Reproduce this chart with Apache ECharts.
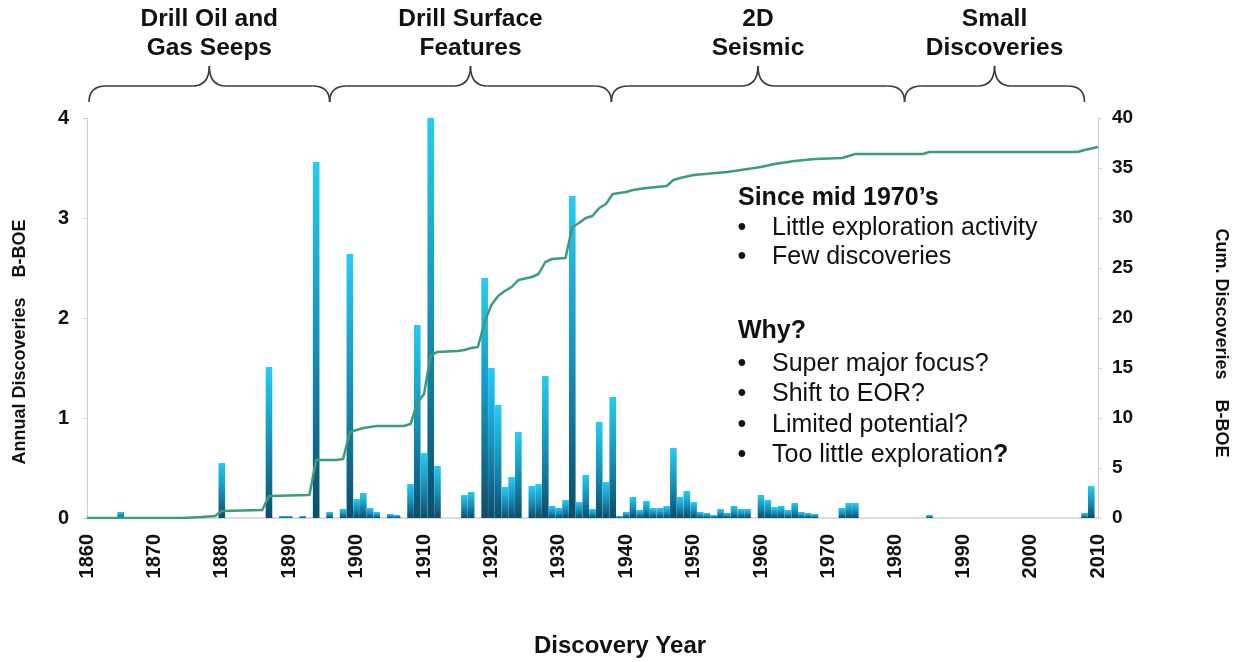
<!DOCTYPE html>
<html>
<head>
<meta charset="utf-8">
<script src="https://cdn.jsdelivr.net/npm/echarts@6/dist/echarts.min.js"></script>
<style>
  html, body { margin: 0; padding: 0; background: #ffffff; }
  #chart { width: 1242px; height: 662px; }
</style>
</head>
<body>
<div id="chart"></div>
<script>
// Annual discoveries (billion barrels of oil equivalent), years with a visible bar
const barYears = [1865, 1880, 1887, 1889, 1890, 1892, 1894, 1896, 1898, 1899,
  1900, 1901, 1902, 1903, 1905, 1906, 1908, 1909, 1910, 1911, 1912, 1916, 1917,
  1919, 1920, 1921, 1922, 1923, 1924, 1926, 1927, 1928, 1929, 1930, 1931, 1932,
  1933, 1934, 1935, 1936, 1937, 1938, 1939, 1940, 1941, 1942, 1943, 1944, 1945,
  1946, 1947, 1948, 1949, 1950, 1951, 1952, 1953, 1954, 1955, 1956, 1957, 1958,
  1960, 1961, 1962, 1963, 1964, 1965, 1966, 1967, 1968, 1972, 1973, 1974, 1985,
  2008, 2009];
const barValues = [0.06, 0.55, 1.51, 0.02, 0.02, 0.02, 3.56, 0.06, 0.09, 2.64,
  0.19, 0.25, 0.10, 0.06, 0.04, 0.03, 0.34, 1.93, 0.65, 4.00, 0.52, 0.23, 0.26,
  2.40, 1.50, 1.13, 0.31, 0.41, 0.86, 0.32, 0.34, 1.42, 0.12, 0.10, 0.18, 3.22,
  0.16, 0.43, 0.09, 0.96, 0.36, 1.21, 0.02, 0.06, 0.21, 0.08, 0.17, 0.10, 0.10,
  0.12, 0.70, 0.21, 0.27, 0.16, 0.06, 0.05, 0.03, 0.09, 0.05, 0.12, 0.09, 0.09,
  0.23, 0.18, 0.11, 0.12, 0.08, 0.15, 0.06, 0.05, 0.04, 0.10, 0.15, 0.15, 0.03,
  0.05, 0.32];

// Cumulative discoveries (B-BOE), vertices of the running-total curve
const cumYears = [1860, 1874, 1877, 1879, 1880, 1886, 1887, 1893, 1894, 1897,
  1898, 1899, 1900, 1901, 1903, 1907, 1908, 1909, 1910, 1911, 1912, 1915, 1916,
  1917, 1918, 1919, 1920, 1921, 1922, 1923, 1924, 1926, 1927, 1928, 1929, 1931,
  1932, 1933, 1934, 1935, 1936, 1937, 1938, 1940, 1941, 1943, 1946, 1947, 1948,
  1950, 1955, 1958, 1960, 1962, 1965, 1968, 1972, 1974, 1984, 1985, 2007, 2008,
  2010];
const cumValues = [0, 0, 0.1, 0.2, 0.7, 0.8, 2.2, 2.3, 5.8, 5.8,
  5.9, 8.6, 8.8, 9.0, 9.2, 9.2, 9.4, 11.5, 12.4, 16.3, 16.6, 16.7, 16.8,
  17.0, 17.1, 19.6, 21.3, 22.2, 22.7, 23.1, 23.8, 24.1, 24.4, 25.6, 25.9, 26.0,
  29.1, 29.5, 30.0, 30.2, 31.0, 31.4, 32.4, 32.6, 32.8, 33.0, 33.2, 33.8, 34.0,
  34.3, 34.6, 34.9, 35.1, 35.4, 35.7, 35.9, 36.0, 36.4, 36.4, 36.6, 36.6, 36.8,
  37.1];

// Exploration eras shown as braces above the plot
const phaseNames = ['Drill Oil and\nGas Seeps', 'Drill Surface\nFeatures', '2D\nSeismic', 'Small\nDiscoveries'];
const phaseBounds = [1860.3, 1896, 1937.8, 1981.3, 2008];

// Side notes
const noteSince = 'Since mid 1970\u2019s';
const noteSinceItems = ['Little exploration activity', 'Few discoveries'];
const noteWhy = 'Why?';
const noteWhyItems = ['Super major focus?', 'Shift to EOR?', 'Limited potential?'];
const noteLastItem = 'Too little exploration';

// Axis titles
const xTitle = 'Discovery Year';
const leftTitle = 'Annual Discoveries    B-BOE';
const rightTitle = 'Cum. Discoveries    B-BOE';

const FONT = '"Liberation Sans", Arial, Helvetica, sans-serif';
const INK = '#111111';
const AXIS_GREY = '#cfcfcf';
const BRACE = '#3a3a3a';

const barGradient = new echarts.graphic.LinearGradient(0, 0, 0, 1, [
  { offset: 0, color: '#24ccf4' },
  { offset: 0.5, color: '#1592bd' },
  { offset: 1, color: '#0b4d69' }
]);

const chart = echarts.init(document.getElementById('chart'), null, { renderer: 'canvas' });

chart.setOption({
  animation: false,
  backgroundColor: '#ffffff',
  textStyle: { fontFamily: FONT },
  grid: { left: 87, right: 144, top: 118, bottom: 144, containLabel: false },
  xAxis: {
    type: 'value',
    min: 1860,
    max: 2010,
    interval: 10,
    axisLine: { show: true, lineStyle: { color: AXIS_GREY, width: 1.5 } },
    axisTick: { show: false },
    splitLine: { show: false },
    axisLabel: {
      rotate: 90,
      margin: 16,
      fontFamily: FONT,
      fontSize: 20,
      fontWeight: 'bold',
      color: INK,
      formatter: v => String(v)
    }
  },
  yAxis: [
    {
      type: 'value',
      min: 0,
      max: 4,
      interval: 1,
      position: 'left',
      axisLine: { show: true, lineStyle: { color: AXIS_GREY, width: 1 } },
      axisTick: { show: true, length: 4, lineStyle: { color: AXIS_GREY } },
      splitLine: { show: false },
      axisLabel: { margin: 18, fontFamily: FONT, fontSize: 20, fontWeight: 'bold', color: INK }
    },
    {
      type: 'value',
      min: 0,
      max: 40,
      interval: 5,
      position: 'right',
      axisLine: { show: true, lineStyle: { color: AXIS_GREY, width: 1 } },
      axisTick: { show: true, length: 4, lineStyle: { color: AXIS_GREY } },
      splitLine: { show: false },
      axisLabel: { margin: 14, fontFamily: FONT, fontSize: 19, fontWeight: 'bold', color: INK }
    }
  ],
  series: [
    {
      name: 'Annual Discoveries',
      type: 'bar',
      xAxisIndex: 0,
      yAxisIndex: 0,
      barWidth: 6.6,
      itemStyle: { color: barGradient },
      data: barYears.map((y, i) => [y, barValues[i]]),
      z: 2
    },
    {
      name: 'Cum. Discoveries',
      type: 'line',
      xAxisIndex: 0,
      yAxisIndex: 1,
      showSymbol: false,
      symbol: 'none',
      lineStyle: { color: '#3a9e75', width: 2.5 },
      data: cumYears.map((y, i) => [y, cumValues[i]]),
      z: 3
    }
  ]
});

function textEl(x, y, text, font, align, extra) {
  return Object.assign({
    type: 'text', x: x, y: y, silent: true,
    style: {
      text: text, font: font, fill: INK,
      align: align, textAlign: align,
      verticalAlign: 'middle', textVerticalAlign: 'middle'
    }
  }, extra || {});
}

// Curly brace built from straight runs and quadratic curves
function braceParts(x0, x1, yEnd, yBar, yTip, r) {
  const xm = (x0 + x1) / 2;
  const st = { stroke: BRACE, fill: null, lineWidth: 1.6 };
  const q = (ax, ay, cx, cy, bx, by) => ({
    type: 'bezierCurve', silent: true, style: st,
    shape: { x1: ax, y1: ay, cpx1: cx, cpy1: cy, x2: bx, y2: by }
  });
  const l = (ax, bx) => ({
    type: 'line', silent: true, style: st,
    shape: { x1: ax, y1: yBar, x2: bx, y2: yBar }
  });
  return [
    q(x0, yEnd, x0, yBar, x0 + r, yBar),
    l(x0 + r, xm - r),
    q(xm - r, yBar, xm, yBar, xm, yTip),
    q(xm, yTip, xm, yBar, xm + r, yBar),
    l(xm + r, x1 - r),
    q(x1 - r, yBar, x1, yBar, x1, yEnd)
  ];
}

const px = year => chart.convertToPixel({ xAxisIndex: 0 }, year);
const graphics = [];

phaseNames.forEach((label, i) => {
  const x0 = px(phaseBounds[i]);
  const x1 = px(phaseBounds[i + 1]);
  graphics.push(...braceParts(x0, x1, 102, 86, 66, 17));
  const t = textEl((x0 + x1) / 2, 34, label, 'bold 24.5px ' + FONT, 'center');
  t.style.lineHeight = 29;
  graphics.push(t);
});

// Axis titles
graphics.push(textEl(620, 646, xTitle, 'bold 24px ' + FONT, 'center'));
graphics.push(textEl(20, 342, leftTitle, 'bold 18px ' + FONT, 'center', { rotation: Math.PI / 2 }));
graphics.push(textEl(1221, 343, rightTitle, 'bold 18px ' + FONT, 'center', { rotation: -Math.PI / 2 }));

// Side notes block
const noteX = 738;
const bulletX = 742;
const itemX = 772;
const noteFont = '25px ' + FONT;
const noteBold = 'bold 25px ' + FONT;

function bulletItem(y, text) {
  return [textEl(bulletX, y, '\u2022', noteFont, 'center'), textEl(itemX, y, text, noteFont, 'left')];
}

graphics.push(textEl(noteX, 198, noteSince, noteBold, 'left'));
noteSinceItems.forEach((t, i) => graphics.push(...bulletItem(228 + i * 29, t)));
graphics.push(textEl(noteX, 331, noteWhy, noteBold, 'left'));
noteWhyItems.forEach((t, i) => graphics.push(...bulletItem(364 + i * 30.5, t)));
graphics.push(textEl(bulletX, 455, '\u2022', noteFont, 'center'));
graphics.push({
  type: 'text', x: itemX, y: 455, silent: true,
  style: {
    text: '{r|' + noteLastItem + '}{b|?}',
    fill: INK, align: 'left', textAlign: 'left',
    verticalAlign: 'middle', textVerticalAlign: 'middle',
    rich: {
      r: { fontFamily: FONT, fontSize: 25, fill: INK, color: INK },
      b: { fontFamily: FONT, fontSize: 25, fontWeight: 'bold', fill: INK, color: INK }
    }
  }
});

chart.setOption({ graphic: graphics });
</script>
</body>
</html>
